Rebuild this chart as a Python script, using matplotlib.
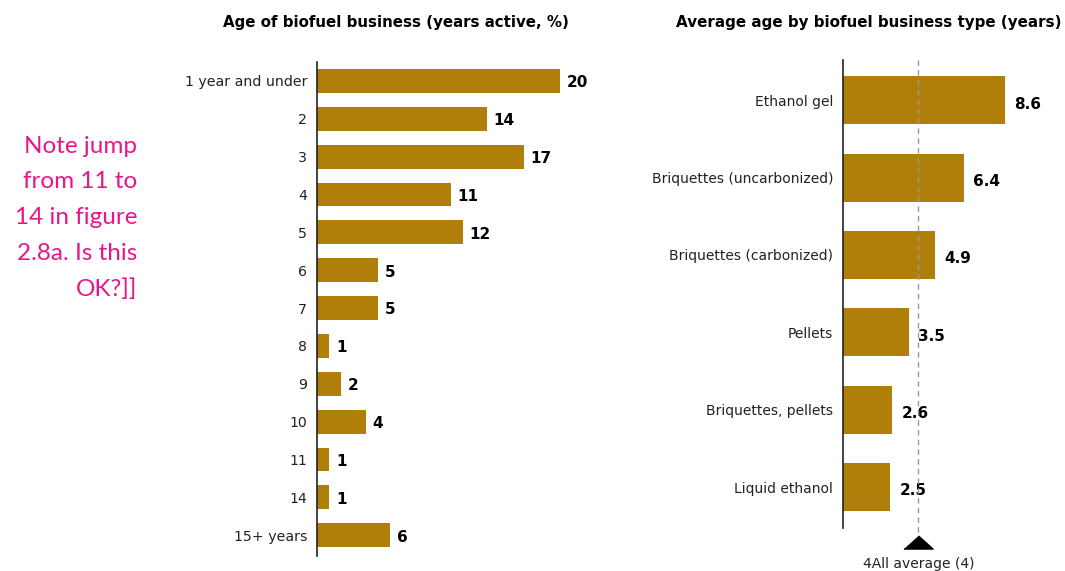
import matplotlib.pyplot as plt

# === DATA ===
age_labels = ["1 year and under", "2", "3", "4", "5", "6", "7", "8", "9", "10", "11", "14", "15+ years"]
age_share = [20, 14, 17, 11, 12, 5, 5, 1, 2, 4, 1, 1, 6]

type_labels = ["Ethanol gel", "Briquettes (uncarbonized)", "Briquettes (carbonized)",
               "Pellets", "Briquettes, pellets", "Liquid ethanol"]
type_age = [8.6, 6.4, 4.9, 3.5, 2.6, 2.5]
all_average = 4

BAR = "#B07F0A"
PINK = "#E8168B"
plt.rcParams["font.family"] = ["DejaVu Sans"]

W, H = 1065, 571
fig = plt.figure(figsize=(W / 100, H / 100), dpi=100)


def px_axes(x0, y_top, x1, y_bot):
    return fig.add_axes([x0 / W, 1 - y_bot / H, (x1 - x0) / W, (y_bot - y_top) / H])


def style(ax):
    for s in ["top", "right", "bottom"]:
        ax.spines[s].set_visible(False)
    ax.spines["left"].set_color("#222222")
    ax.spines["left"].set_linewidth(1.2)
    ax.set_xticks([])
    ax.tick_params(axis="y", length=0, labelsize=10.2, labelcolor="#222222", pad=7)


# === LEFT: age of business ===
ax1 = px_axes(317, 62, 317 + 24 * 12.15, 556)
ys = range(len(age_labels))
ax1.barh(ys, age_share, height=0.63, color=BAR)
ax1.set_xlim(0, 24)
ax1.set_ylim(12.55, -0.5)
ax1.set_yticks(list(ys))
ax1.set_yticklabels(age_labels)
style(ax1)
for y, v in zip(ys, age_share):
    ax1.text(v + 0.55, y + 0.05, str(v), va="center", ha="left",
             fontsize=11, fontweight="bold", color="black")
fig.text(396 / W, 1 - 22 / H, "Age of biofuel business (years active, %)",
         ha="center", va="center", fontsize=10.8, fontweight="bold")

# === RIGHT: average age by type ===
ax2 = px_axes(843, 60, 843 + 11 * 18.84, 528)
ys2 = range(len(type_labels))
ax2.barh(ys2, type_age, height=0.62, color=BAR, zorder=2)
ax2.set_xlim(0, 11)
ax2.set_ylim(5.53, -0.52)
ax2.set_yticks(list(ys2))
ax2.set_yticklabels(type_labels)
style(ax2)
ax2.tick_params(axis="y", labelsize=10)
for y, v in zip(ys2, type_age):
    ax2.text(v + 0.5, y + 0.05, f"{v}", va="center", ha="left",
             fontsize=11, fontweight="bold", color="black")
ax2.plot([all_average, all_average], [-0.52, 5.62], ls=(0, (4, 3)), color="#999999",
         lw=1, zorder=3, clip_on=False)
ax2.plot([all_average], [5.71], marker=[(-1, -0.45), (1, -0.45), (0, 0.45)],
         markersize=21, color="black", clip_on=False)
ax2.text(all_average, 6.0, f"4All average ({all_average})", ha="center", va="center",
         fontsize=10, color="#222222", clip_on=False)
fig.text(868.5 / W, 1 - 22 / H, "Average age by biofuel business type (years)",
         ha="center", va="center", fontsize=10.9, fontweight="bold")

# editorial note
fig.text(137 / W, 1 - 218 / H, "Note jump\nfrom 11 to\n14 in figure\n2.8a. Is this\nOK?]]",
         ha="right", va="center", fontsize=17.5, color=PINK,
         family=["Lato", "DejaVu Sans"], linespacing=1.86)

fig.savefig("out.png", dpi=100)
